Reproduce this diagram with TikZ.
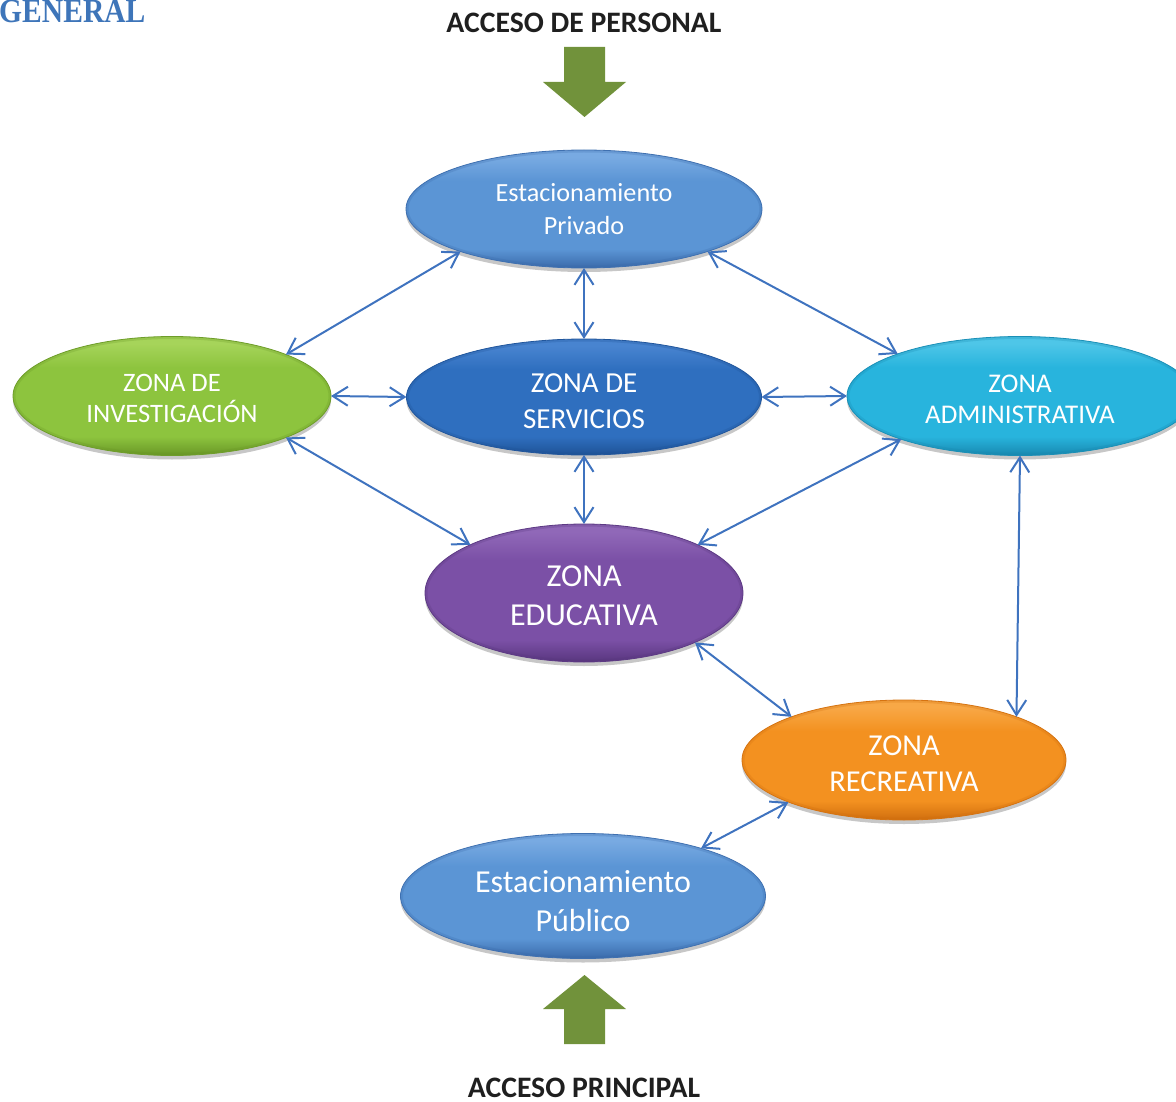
\documentclass[tikz,border=0pt]{standalone}
\usepackage{fontspec}
\setmainfont{Carlito}
\newfontfamily\titlefont[FakeStretch=0.87]{Liberation Serif}
\usetikzlibrary{shapes.geometric,arrows.meta,shadows,calc}

\definecolor{linkblue}{RGB}{63,115,191}
\definecolor{accessgreen}{RGB}{113,146,59}
\definecolor{titleblue}{RGB}{62,117,185}

% parking (light blue)
\definecolor{pkTop}{RGB}{120,170,226}
\definecolor{pkMid}{RGB}{91,149,213}
\definecolor{pkBot}{RGB}{58,106,170}
% services (blue)
\definecolor{svTop}{RGB}{72,132,208}
\definecolor{svMid}{RGB}{47,111,191}
\definecolor{svBot}{RGB}{30,82,150}
% research (green)
\definecolor{rsTop}{RGB}{166,212,90}
\definecolor{rsMid}{RGB}{141,196,62}
\definecolor{rsBot}{RGB}{104,150,38}
% administration (cyan)
\definecolor{adTop}{RGB}{78,198,232}
\definecolor{adMid}{RGB}{40,180,221}
\definecolor{adBot}{RGB}{24,136,175}
% education (purple)
\definecolor{edTop}{RGB}{144,104,184}
\definecolor{edMid}{RGB}{123,80,166}
\definecolor{edBot}{RGB}{88,54,126}
% recreation (orange)
\definecolor{rcTop}{RGB}{248,168,70}
\definecolor{rcMid}{RGB}{243,145,32}
\definecolor{rcBot}{RGB}{208,110,14}

\colorlet{zcTop}{white}\colorlet{zcMid}{gray}\colorlet{zcBot}{black}
% glossy fill: light sheen on top, flat body, darker bottom rim
\pgfdeclareverticalshading[zcTop,zcMid,zcBot]{glossy}{100bp}{%
  color(0bp)=(zcBot); color(25bp)=(zcBot); color(33bp)=(zcMid);
  color(62bp)=(zcMid); color(72bp)=(zcTop); color(100bp)=(zcTop)}

\tikzset{
  zone/.style n args={3}{ellipse, inner sep=0pt, outer sep=0pt,
    /utils/exec={\colorlet{zcTop}{#1}\colorlet{zcMid}{#2}\colorlet{zcBot}{#3}},
    shading=glossy, draw=#3!85!#2, line width=0.8pt,
    path picture={
      \draw let \p1=(path picture bounding box.north east),
                \p2=(path picture bounding box.center) in
        [zcBot, line width=12pt, opacity=0.18]
          (\p2) ellipse [x radius=\x1-\x2, y radius=\y1-\y2]
        [zcBot, line width=5pt, opacity=0.25]
          (\p2) ellipse [x radius=\x1-\x2, y radius=\y1-\y2];
    },
    drop shadow={shadow xshift=0pt, shadow yshift=-4pt, opacity=0.22, fill=black}},
  zonetext/.style={text=white, align=center, inner sep=0pt},
  link/.style={linkblue, line width=2pt,
    {Straight Barb[length=15pt,width=19pt]}-{Straight Barb[length=15pt,width=19pt]}},
  access/.style={fill=accessgreen, draw=none},
  heading/.style={font=\bfseries\fontsize{29.7}{33}\selectfont, text=black!88,
    inner sep=0pt, anchor=base}
}

\begin{document}
\begin{tikzpicture}[x=1pt,y=-1pt]
\useasboundingbox (0,0) rectangle (1176,1102);

% section title
\node[anchor=base west, inner sep=0pt, text=titleblue,
      font=\titlefont\bfseries\fontsize{34}{36}\selectfont] (title) at (-1,23) {GENERAL};

% entrances
\node[heading] (hdtop) at (584,32.5) {ACCESO DE PERSONAL};
\node[heading] (hdbot) at (584,1097) {ACCESO PRINCIPAL};
\fill[access] (564,47) -- (605,47) -- (605,82) -- (626,82) -- (584.5,117)
  -- (543,82) -- (564,82) -- cycle;
\fill[access] (564,1044) -- (605,1044) -- (605,1009) -- (626,1009) -- (584.5,975)
  -- (543,1009) -- (564,1009) -- cycle;

% zones
\node[zone={pkTop}{pkMid}{pkBot}, minimum width=356, minimum height=118] (priv) at (584,209) {};
\node[zone={rsTop}{rsMid}{rsBot}, minimum width=318, minimum height=119] (inv) at (172,396) {};
\node[zone={svTop}{svMid}{svBot}, minimum width=355, minimum height=116] (serv) at (584,397) {};
\node[zone={adTop}{adMid}{adBot}, minimum width=346, minimum height=119] (adm) at (1020,396) {};
\node[zone={edTop}{edMid}{edBot}, minimum width=318, minimum height=138] (edu) at (584,593) {};
\node[zone={rcTop}{rcMid}{rcBot}, minimum width=324, minimum height=120] (rec) at (904,760) {};
\node[zone={pkTop}{pkMid}{pkBot}, minimum width=365, minimum height=125] (pub) at (583,896) {};

% zone labels
\node[zonetext, font=\fontsize{26.2}{33}\selectfont] (privtxt)
  at ([yshift=-0.5pt]priv.center) {Estacionamiento\\Privado};
\node[zonetext, font=\fontsize{26.6}{31}\selectfont] (invtxt)
  at ([yshift=-2.5pt]inv.center) {ZONA DE\\INVESTIGACIÓN};
\node[zonetext, font=\fontsize{29}{36}\selectfont] (servtxt)
  at ([yshift=-4pt]serv.center) {ZONA DE\\SERVICIOS};
\node[zonetext, font=\fontsize{27}{31}\selectfont] (admtxt)
  at ([yshift=-3pt]adm.center) {ZONA\\ADMINISTRATIVA};
\node[zonetext, font=\fontsize{32}{39}\selectfont] (edutxt)
  at ([yshift=-3pt]edu.center) {ZONA\\EDUCATIVA};
\node[zonetext, font=\fontsize{30.4}{36}\selectfont] (rectxt)
  at ([yshift=-4pt]rec.center) {ZONA\\RECREATIVA};
\node[zonetext, font=\fontsize{32}{39}\selectfont] (pubtxt)
  at ([yshift=-5pt]pub.center) {Estacionamiento\\Público};

% connections
\draw[link] (priv.199) -- (inv.20);
\draw[link] (priv.south) -- (serv.north);
\draw[link] (priv.341) -- (adm.161);
\draw[link] (inv.east) -- (serv.west);
\draw[link] (serv.east) -- (adm.west);
\draw[link] (inv.340) -- (edu.157);
\draw[link] (serv.south) -- (edu.north);
\draw[link] (adm.200) -- (edu.23);
\draw[link] (adm.south) -- (rec.21);
\draw[link] (edu.336) -- (rec.159);
\draw[link] (pub.22) -- (rec.200);
\end{tikzpicture}
\end{document}
